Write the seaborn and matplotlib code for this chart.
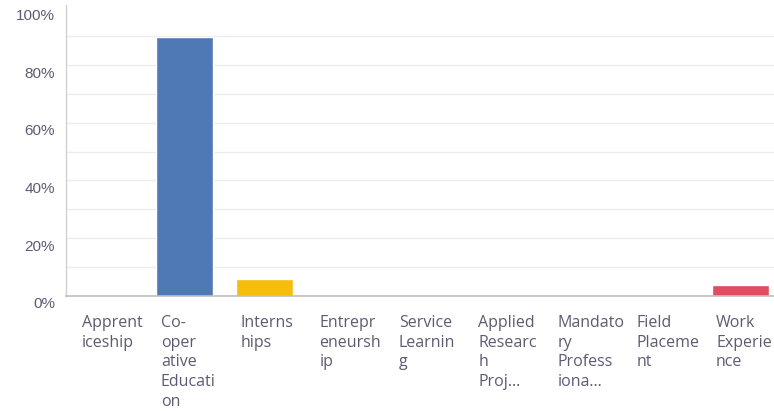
import matplotlib
matplotlib.use("Agg")
import matplotlib.pyplot as plt
import matplotlib.transforms as mtransforms
from matplotlib.ticker import FuncFormatter
import seaborn as sns
import pandas as pd

# Survey answer categories and share of respondents (%)
categories = [
    "Apprenticeship", "Co-operative Education", "Internships", "Entrepreneurship",
    "Service Learning", "Applied Research Project", "Mandatory Professional Practice",
    "Field Placement", "Work Experience",
]
shares = [0, 89.7, 5.7, 0, 0, 0, 0, 0, 3.6]
tick_labels = [
    "Apprent\niceship", "Co-\noper\native\nEducati\non", "Interns\nhips",
    "Entrepr\neneursh\nip", "Service\nLearnin\ng", "Applied\nResearc\nh\nProj...",
    "Mandato\nry\nProfess\niona...", "Field\nPlaceme\nnt", "Work\nExperie\nnce",
]
y_ticks = [0, 20, 40, 60, 80, 100]
bar_colors = ["#4e79b4", "#4e79b4", "#f7bd0d", "#4e79b4", "#4e79b4",
              "#4e79b4", "#4e79b4", "#4e79b4", "#de4e60"]

df = pd.DataFrame({"category": categories, "share": shares})

sns.set_theme(style="white")
plt.rcParams["font.family"] = ["Open Sans", "DejaVu Sans"]
text_color = "#5f5a72"

fig = plt.figure(figsize=(7.74, 4.11), dpi=100)
ax = fig.add_axes([66 / 774, 115.3 / 411, 713.7 / 774, 288 / 411])

sns.barplot(data=df, x="category", y="share", hue="category",
            palette=dict(zip(categories, bar_colors)), width=0.72,
            saturation=1, legend=False, ax=ax)

ax.set_xlim(-0.5, len(categories) - 0.5)
ax.set_yticks(y_ticks)
ax.set_yticks([v + 10 for v in y_ticks[:-1]], minor=True)
ax.set_ylim(0, 100)
ax.yaxis.set_major_formatter(FuncFormatter(lambda v, _: f"{v:.0f}%"))
ax.grid(axis="y", which="both", color="#ececec", linewidth=1)
ax.set_axisbelow(True)
# no gridline along the top of the plot area
ax.yaxis.get_major_ticks()[-1].gridline.set_visible(False)

for side in ("top", "right"):
    ax.spines[side].set_visible(False)
ax.spines["left"].set_color("#d0d0d0")
ax.spines["bottom"].set_color("#bdbdbd")
ax.spines["left"].set_linewidth(1)
ax.spines["bottom"].set_linewidth(1.2)
ax.spines["left"].set_bounds(0, 101)
ax.spines["left"].set_clip_on(False)

ax.set_xlabel("")
ax.set_ylabel("")
ax.tick_params(axis="both", length=0, colors=text_color)
ax.tick_params(axis="y", which="minor", length=0)
ax.tick_params(axis="y", pad=8, labelsize=11)
ax.tick_params(axis="x", pad=14, labelsize=11.5)

ax.set_xticks(range(len(categories)))
ax.set_xticklabels(tick_labels, ha="left", va="top", linespacing=1.3)
shift_x = mtransforms.ScaledTranslation(-24 / 100, 0, fig.dpi_scale_trans)
for lbl in ax.get_xticklabels():
    lbl.set_transform(lbl.get_transform() + shift_x)
shift_y = mtransforms.ScaledTranslation(0, -7 / 100, fig.dpi_scale_trans)
for lbl in ax.get_yticklabels():
    lbl.set_transform(lbl.get_transform() + shift_y)
    lbl.set_fontfamily(["Liberation Sans", "DejaVu Sans"])

fig.savefig("out.png", dpi=100)
